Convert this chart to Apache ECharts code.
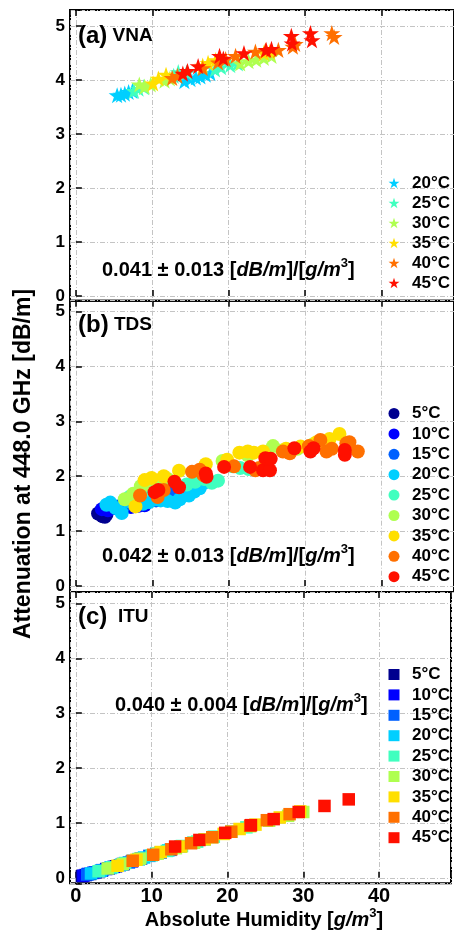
<!DOCTYPE html>
<html><head><meta charset="utf-8">
<script src="https://cdn.jsdelivr.net/npm/echarts@6/dist/echarts.min.js"></script>
<style>html,body{margin:0;padding:0;background:#fff}#c{width:454px;height:933px}</style>
</head><body><div id="c"></div><script>
// ---- categories / colors ----
const tempsVNA = ['20°C','25°C','30°C','35°C','40°C','45°C'];
const tempsAll = ['5°C','10°C','15°C','20°C','25°C','30°C','35°C','40°C','45°C'];
const colorMap = {'5°C':'#00008f','10°C':'#0000ff','15°C':'#0060ff','20°C':'#00cfff','25°C':'#40ffbf','30°C':'#afff50','35°C':'#ffdf00','40°C':'#ff7000','45°C':'#ff1000'};
const xTicks = [0,10,20,30,40];
const yTicks = [0,1,2,3,4,5];
const slopeTexts = ['0.041 ± 0.013','0.042 ± 0.013','0.040 ± 0.004'];
const panelTitles = [['(a)','VNA'],['(b)','TDS'],['(c)','ITU']];

// ---- (a) VNA data [humidity, attenuation] ----
const vna20 = [[5.4,3.72],[5.9,3.73],[6.4,3.75],[6.9,3.78],[7.4,3.80],[14.2,3.98],[15.0,4.02],[15.7,4.05],[16.3,4.07],[17.0,4.10],[17.6,4.13]];
const vna25 = [[7.6,3.80],[8.2,3.84],[8.9,3.87],[12.8,4.08],[13.4,4.15],[14.5,4.14],[18.2,4.20],[19.0,4.24],[20.2,4.28],[21.2,4.31]];
const vna30 = [[8.3,3.92],[9.0,3.88],[9.8,3.92],[11.6,3.99],[12.3,4.03],[21.5,4.31],[22.6,4.35],[23.6,4.38],[24.6,4.41],[25.6,4.45]];
const vna35 = [[10.1,3.94],[10.8,4.03],[11.8,4.10],[16.6,4.27],[17.3,4.32],[18.3,4.37],[24.6,4.50],[25.4,4.53]];
const vna40 = [[12.6,4.04],[13.3,4.08],[16.6,4.22],[18.6,4.33],[19.6,4.39],[20.9,4.45],[23.5,4.53],[24.8,4.55],[26.5,4.56],[28.4,4.62],[28.7,4.67],[33.5,4.87],[33.8,4.80]];
const vna45 = [[14.0,4.12],[14.6,4.17],[16.0,4.26],[18.8,4.45],[19.3,4.40],[22.0,4.50],[24.9,4.56],[25.6,4.58],[28.2,4.82],[28.3,4.68],[30.7,4.87],[30.9,4.74]];

// ---- (b) TDS data ----
const tds5  = [[2.9,1.32],[3.2,1.30],[3.5,1.27],[3.8,1.26],[3.3,1.36],[4.0,1.30]];
const tds10 = [[3.4,1.40],[4.2,1.38],[5.0,1.42],[5.8,1.40],[7.2,1.44],[8.2,1.46],[9.0,1.47]];
const tds15 = [[5.5,1.45],[6.5,1.48],[7.5,1.50],[9.5,1.55],[10.5,1.56],[11.5,1.62],[12.3,1.68]];
const tds20 = [[4.0,1.48],[4.5,1.52],[5.2,1.42],[6.0,1.33],[6.8,1.55],[7.6,1.50],[8.8,1.50],[9.6,1.53],[10.5,1.58],[11.1,1.56],[12.0,1.55],[13.0,1.52],[13.6,1.58],[14.8,1.65],[15.5,1.72],[16.2,1.78],[16.8,1.88]];
const tds25 = [[7.0,1.62],[8.2,1.70],[9.0,1.75],[10.2,1.78],[14.5,1.85],[15.6,1.90],[16.8,1.95],[17.8,1.88],[18.6,1.92],[19.5,2.26],[20.5,2.18],[21.5,2.15],[22.6,2.13]];
const tds30 = [[6.4,1.58],[7.5,1.68],[8.5,1.82],[9.3,1.85],[11.0,1.90],[12.0,1.95],[19.2,2.28],[22.5,2.38],[25.8,2.55],[27.0,2.47],[29.0,2.50],[31.0,2.58]];
const tds35 = [[7.8,1.45],[9.0,1.93],[9.9,1.97],[11.5,2.00],[13.5,2.10],[17.0,2.22],[19.8,2.30],[21.4,2.43],[22.5,2.45],[23.3,2.43],[24.5,2.45],[27.5,2.50],[29.4,2.54],[31.5,2.62],[33.2,2.68],[34.5,2.77]];
const tds40 = [[8.4,1.65],[10.7,1.62],[11.5,1.75],[15.2,2.08],[16.2,2.12],[16.7,2.02],[20.7,2.18],[23.5,2.11],[24.0,2.15],[27.1,2.45],[28.0,2.42],[30.5,2.55],[32.0,2.66],[32.8,2.45],[33.5,2.50],[35.4,2.60],[35.8,2.62],[36.9,2.45]];
const tds45 = [[10.3,1.71],[10.8,1.75],[12.9,1.90],[13.5,1.80],[17.0,2.05],[17.1,1.99],[19.4,2.17],[22.8,2.17],[24.5,2.11],[25.4,2.11],[24.8,2.33],[25.5,2.32],[28.6,2.51],[30.7,2.45],[31.1,2.51],[35.2,2.48],[35.2,2.39]];

// ---- (c) ITU data ----
const itu5  = [[0.8,0.03],[1.3,0.05],[1.9,0.07],[2.6,0.10],[3.4,0.13],[4.3,0.17],[5.3,0.21],[6.3,0.25]];
const itu10 = [[1.0,0.04],[1.6,0.07],[2.3,0.09],[3.1,0.12],[4.0,0.16],[5.0,0.20],[6.2,0.25],[7.4,0.30],[8.6,0.35]];
const itu15 = [[1.5,0.06],[2.5,0.10],[3.5,0.14],[4.6,0.18],[5.8,0.23],[7.0,0.28],[8.3,0.34],[9.7,0.40],[11.2,0.46],[12.5,0.51]];
const itu20 = [[2.0,0.08],[3.3,0.13],[4.6,0.19],[6.0,0.24],[7.5,0.31],[9.0,0.37],[10.6,0.44],[12.2,0.50],[13.8,0.57],[15.5,0.64],[17.0,0.70]];
const itu25 = [[3.0,0.12],[4.8,0.19],[6.5,0.27],[8.3,0.34],[10.0,0.41],[12.0,0.49],[14.0,0.58],[16.0,0.66],[18.2,0.75],[20.5,0.84],[22.5,0.92]];
const itu30 = [[4.2,0.17],[6.2,0.25],[8.5,0.35],[10.8,0.44],[13.2,0.54],[15.6,0.64],[18.0,0.74],[20.5,0.84],[23.0,0.94],[25.5,1.04],[28.0,1.13],[30.0,1.20]];
const itu35 = [[5.5,0.22],[8.0,0.33],[11.2,0.47],[13.9,0.57],[17.0,0.70],[19.5,0.80],[21.6,0.89],[23.7,0.97],[26.9,1.10],[29.6,1.21]];
const itu40 = [[7.5,0.31],[10.2,0.42],[12.6,0.52],[15.2,0.63],[18.0,0.74],[20.5,0.84],[23.0,0.95],[25.2,1.05],[28.2,1.16]];
const itu45 = [[13.1,0.57],[16.3,0.69],[19.7,0.82],[23.1,0.96],[26.1,1.07],[29.4,1.20],[32.8,1.31],[36.0,1.43]];

const vnaData = [vna20,vna25,vna30,vna35,vna40,vna45];
const tdsData = [tds5,tds10,tds15,tds20,tds25,tds30,tds35,tds40,tds45];
const ituData = [itu5,itu10,itu15,itu20,itu25,itu30,itu35,itu40,itu45];

// ---- layout / styling ----
const FONT = 'Liberation Sans';
const star = 'path://M50,0L61.23,34.55L97.55,34.55L68.17,55.9L79.39,90.45L50,69.1L20.61,90.45L31.83,55.9L2.45,34.55L38.77,34.55Z';
const grids = [
  {top:10, height:290.7, ymin:-0.087, ymax:5.3},
  {top:300.7, height:291.3, ymin:-0.11, ymax:5.2},
  {top:592, height:291.3, ymin:-0.1, ymax:5.21}
];
const XMIN = -0.77, XMAX = 49.49;
const intFmt = v => (Math.abs(v - Math.round(v)) < 1e-6 ? String(Math.round(v)) : '');
const gridLine = {show:true, lineStyle:{color:'#c4c4c4', width:1, type:[5,2,1,2]}};
const tick = {show:true, inside:true, length:6, lineStyle:{color:'#000', width:1.5}};

const option = {animation:false, backgroundColor:'#fff', grid:[], xAxis:[], yAxis:[], series:[], legend:[], graphic:[]};
grids.forEach((g,i) => {
  option.grid.push({left:70, width:394, top:g.top, height:g.height, show:true, borderColor:'#000', borderWidth:2, backgroundColor:'transparent'});
  option.xAxis.push({type:'value', gridIndex:i, min:XMIN, max:XMAX, position:'bottom',
    axisLine:{show:false}, axisTick:tick, splitLine:gridLine,
    axisLabel:{show:i===2, formatter:intFmt, fontFamily:FONT, fontWeight:'bold', fontSize:20, color:'#000', margin:3}});
  option.xAxis.push({type:'value', gridIndex:i, min:XMIN, max:XMAX, position:'top',
    axisLine:{show:false}, axisTick:tick, splitLine:{show:false}, axisLabel:{show:false}});
  option.yAxis.push({type:'value', gridIndex:i, min:g.ymin, max:g.ymax,
    axisLine:{show:false}, axisTick:tick, splitLine:gridLine,
    axisLabel:{formatter:intFmt, fontFamily:FONT, fontWeight:'bold', fontSize:17, color:'#000', margin:5}});
});

function addPanel(idx, prefix, names, data, symbol, size, legendTop, gap) {
  const legendData = [];
  names.forEach((n,k) => {
    option.series.push({type:'scatter', name:prefix+n, xAxisIndex:idx*2, yAxisIndex:idx,
      data:data[k], symbol:symbol, symbolSize:size, symbolKeepAspect:true,
      itemStyle:{color:colorMap[n], opacity:1}, emphasis:{disabled:true}});
    legendData.push({name:prefix+n, icon:symbol, itemStyle:{color:colorMap[n]}});
  });
  option.legend.push({orient:'vertical', left:388.5, top:legendTop, padding:0, itemWidth:11, itemHeight:11,
    itemGap:gap, selectedMode:false, data:legendData,
    formatter: nm => nm.slice(prefix.length),
    textStyle:{fontFamily:FONT, fontWeight:'bold', fontSize:17, color:'#000', padding:[0,0,0,7.5]}});
}
addPanel(0, 'a|', tempsVNA, vnaData, star, 17, 174.5, 3.0);
addPanel(1, 'b|', tempsAll, tdsData, 'circle', 14, 405, 3.4);
addPanel(2, 'c|', tempsAll, ituData, 'rect', 12.5, 666, 3.4);

// ---- texts ----
const richBase = {
  i:{fontFamily:FONT, fontWeight:'bold', fontStyle:'italic', fontSize:20},
  s:{fontFamily:FONT, fontWeight:'bold', fontSize:13, verticalAlign:'top', lineHeight:12}
};
const annY = [270, 556, 705], annX = [102, 102, 115];
slopeTexts.forEach((t,i) => {
  option.graphic.push({type:'text', x:annX[i], y:annY[i], z:100,
    style:{text:t+' [{i|dB/m}]/[{i|g/m}{s|3}]', fontFamily:FONT, fontWeight:'bold', fontSize:20, lineHeight:26,
      fill:'#000', textAlign:'left', textVerticalAlign:'middle', rich:richBase}});
});
const titleY = [36, 325, 617];
panelTitles.forEach((p,i) => {
  option.graphic.push({type:'text', x:78, y:titleY[i], z:100,
    style:{text:'{p|'+p[0]+'}'+(i===2?'  ':' ')+'{t|'+p[1]+'}', fill:'#000', textAlign:'left', textVerticalAlign:'middle',
      rich:{p:{fontFamily:FONT, fontWeight:'bold', fontSize:24}, t:{fontFamily:FONT, fontWeight:'bold', fontSize:19}},
      fontFamily:FONT, fontWeight:'bold', fontSize:19}});
});
option.graphic.push({type:'text', x:24, y:464, rotation:Math.PI/2, z:100,
  style:{text:'Attenuation at 448.0 GHz [dB/m]', fontFamily:FONT, fontWeight:'bold', fontSize:23, fill:'#000',
    textAlign:'center', textVerticalAlign:'middle'}});
option.graphic.push({type:'text', x:264, y:920, z:100,
  style:{text:'Absolute Humidity [{i|g/m}{s|3}]', fontFamily:FONT, fontWeight:'bold', fontSize:20, lineHeight:26, fill:'#000',
    textAlign:'center', textVerticalAlign:'middle', rich:richBase}});

const chart = echarts.init(document.getElementById('c'), null, {renderer:'canvas'});
chart.setOption(option);
</script></body></html>
